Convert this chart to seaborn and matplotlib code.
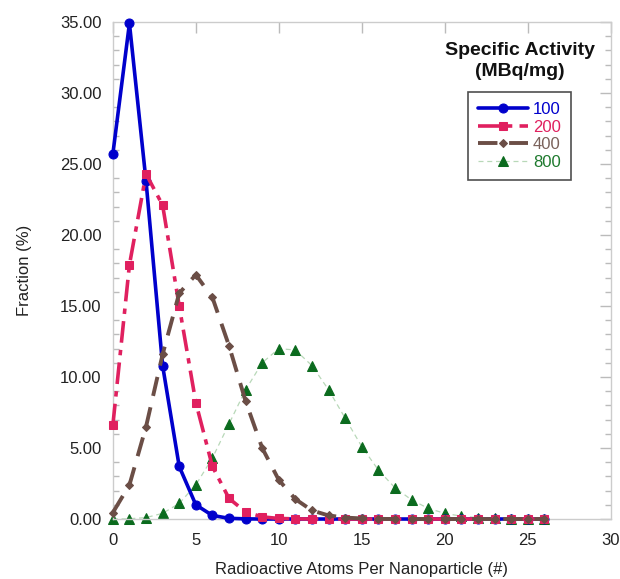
import matplotlib
matplotlib.use("Agg")
import matplotlib.pyplot as plt
import seaborn as sns
import pandas as pd
import numpy as np
from matplotlib.ticker import MultipleLocator, FormatStrFormatter, NullLocator

sns.set_theme(style="white")
plt.rcParams['font.family'] = ['Liberation Sans', 'DejaVu Sans']

atoms = list(range(0, 27))
act_100 = [25.7, 34.9, 23.8, 10.8, 3.7, 1.0, 0.25, 0.05, 0.01, 0.0, 0.0, 0.0, 0.0, 0.0,
           0.0, 0.0, 0.0, 0.0, 0.0, 0.0, 0.0, 0.0, 0.0, 0.0, 0.0, 0.0, 0.0]
act_200 = [6.6, 17.9, 24.3, 22.1, 15.0, 8.2, 3.7, 1.45, 0.5, 0.15, 0.04, 0.01, 0.0, 0.0,
           0.0, 0.0, 0.0, 0.0, 0.0, 0.0, 0.0, 0.0, 0.0, 0.0, 0.0, 0.0, 0.0]
act_400 = [0.45, 2.4, 6.5, 11.6, 15.9, 17.2, 15.6, 12.2, 8.3, 5.0, 2.75, 1.4, 0.6, 0.25,
           0.1, 0.04, 0.01, 0.0, 0.0, 0.0, 0.0, 0.0, 0.0, 0.0, 0.0, 0.0, 0.0]
act_800 = [0.0, 0.02, 0.1, 0.4, 1.1, 2.4, 4.3, 6.7, 9.1, 11.0, 12.0, 11.9, 10.8, 9.1,
           7.1, 5.1, 3.45, 2.2, 1.35, 0.75, 0.4, 0.2, 0.1, 0.05, 0.02, 0.01, 0.0]
series_labels = ["100", "200", "400", "800"]

df = pd.DataFrame({"atoms": atoms * 4,
                   "fraction": act_100 + act_200 + act_400 + act_800,
                   "activity": sum([[s] * len(atoms) for s in series_labels], [])})

styles = {
    "100": dict(color="#0000CC", lw=2.6, ls="-", marker="o", ms=6.5, mfc="#0000CC", mec="#0000CC"),
    "200": dict(color="#E0205F", lw=2.6, ls=(0, (6, 2, 1.5, 2)), marker="s", ms=6, mfc="#E0205F", mec="#E0205F"),
    "400": dict(color="#6B4E46", lw=2.8, ls=(0, (5, 3)), marker="D", ms=4.5, mfc="#6B4E46", mec="#6B4E46"),
    "800": dict(color="#B8D8B8", lw=0.9, ls=(0, (4, 3)), marker="^", ms=6.5, mfc="#0B6B1E", mec="#0B6B1E"),
}
text_colors = {"100": "#0000CC", "200": "#E0205F", "400": "#7A625B", "800": "#1E7A2E"}

fig = plt.figure(figsize=(6.2, 5.79), dpi=100)
ax = fig.add_axes([0.182, 0.1036, 0.803, 0.8584])

for s in series_labels:
    sub = df[df["activity"] == s]
    st = styles[s]
    sns.lineplot(data=sub, x="atoms", y="fraction", ax=ax, color=st["color"],
                 linewidth=st["lw"], linestyle=st["ls"], marker=st["marker"],
                 markersize=st["ms"], markerfacecolor=st["mfc"], markeredgecolor=st["mec"],
                 label=s, legend=False, zorder=3 if s != "800" else 2, clip_on=False)

ax.set_xlim(0, 30)
ax.set_ylim(0, 35)
ax.xaxis.set_major_locator(MultipleLocator(5))
ax.xaxis.set_minor_locator(NullLocator())
ax.yaxis.set_major_locator(MultipleLocator(5))
ax.yaxis.set_minor_locator(MultipleLocator(1))
ax.yaxis.set_major_formatter(FormatStrFormatter("%.2f"))
for sp in ax.spines.values():
    sp.set_color("#CCCCCC")
    sp.set_linewidth(1.0)
ax.tick_params(axis="both", which="both", direction="in", colors="#BBBBBB",
               labelcolor="#222222", labelsize=12, top=True, right=True)
ax.tick_params(axis="both", which="major", length=8, width=1)
ax.tick_params(axis="y", which="minor", length=4, width=1, left=True, right=True)
ax.tick_params(axis="x", pad=10)
ax.tick_params(axis="y", pad=8)

ax.set_xlabel("Radioactive Atoms Per Nanoparticle (#)", fontsize=12, color="#222222", labelpad=10)
ax.set_ylabel("Fraction (%)", fontsize=12, color="#222222", labelpad=20)

leg = ax.legend(loc="upper left", bbox_to_anchor=(0.713, 0.859), frameon=True,
                fontsize=12, handlelength=3.0, handletextpad=0.3, borderpad=0.6,
                labelspacing=0.15, markerfirst=True, fancybox=False, borderaxespad=0)
leg.get_frame().set_edgecolor("#222222")
leg.get_frame().set_linewidth(1.2)
for t in leg.get_texts():
    t.set_color(text_colors[t.get_text()])
fig.text(0.839, 0.894, "Specific Activity\n(MBq/mg)", ha="center", va="center",
         fontsize=14, fontweight="bold", color="#111111", linespacing=1.3)

fig.savefig("out.png", dpi=100)
